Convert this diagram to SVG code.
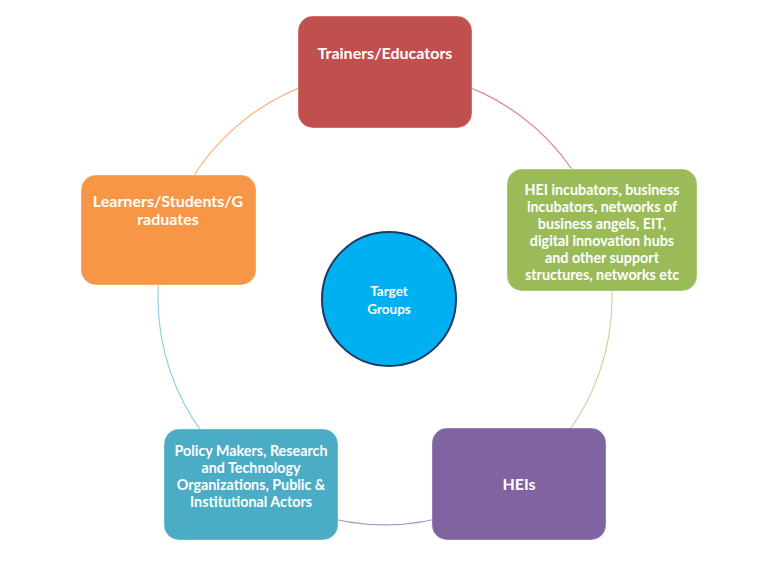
<svg xmlns="http://www.w3.org/2000/svg" width="768" height="567" viewBox="0 0 768 567">
<style>
.box{stroke:#ffffff;stroke-opacity:0.35;stroke-width:1}
.t{font-family:Lato,"Liberation Sans",sans-serif;font-weight:bold;font-size:14.3px;fill:#ffffff;text-anchor:middle}
.big{font-size:16px}
.arc{fill:none;stroke-width:1.2}
</style>
<rect width="768" height="567" fill="#ffffff"/>
<g id="connectors">
<path class="arc" stroke="#f9b47e" d="M167.9,231.6 A227,227 0 0 1 385,71"/>
<path class="arc" stroke="#dc8a88" d="M385,71 A227,227 0 0 1 602.1,231.6"/>
<path class="arc" stroke="#c6d8a0" d="M602.1,231.6 A227,227 0 0 1 518.4,481.6"/>
<path class="arc" stroke="#a795c4" d="M518.4,481.6 A227,227 0 0 1 251.6,481.6"/>
<path class="arc" stroke="#93d0de" d="M251.6,481.6 A227,227 0 0 1 167.9,231.6"/>
</g>
<g id="trainers">
<rect class="box" x="298" y="16" width="174" height="112" rx="15" fill="#c0504d"/>
<text class="t big" x="385" y="59">Trainers/Educators</text>
</g>
<g id="support">
<rect class="box" x="507" y="169" width="190" height="122" rx="15" fill="#9bbb59"/>
<text class="t" x="602" y="195">HEI incubators, business</text>
<text class="t" x="602" y="212">incubators, networks of</text>
<text class="t" x="602" y="229">business angels, EIT,</text>
<text class="t" x="602" y="246">digital innovation hubs</text>
<text class="t" x="602" y="263">and other support</text>
<text class="t" x="602" y="280">structures, networks etc</text>
</g>
<g id="learners">
<rect class="box" x="81" y="175" width="175" height="110" rx="15" fill="#f79646"/>
<text class="t big" x="168" y="207">Learners/Students/G</text>
<text class="t big" x="168" y="225">raduates</text>
</g>
<g id="policy">
<rect class="box" x="164" y="429" width="174" height="111" rx="15" fill="#4bacc6"/>
<text class="t" x="251" y="456">Policy Makers, Research</text>
<text class="t" x="251" y="473">and Technology</text>
<text class="t" x="251" y="490">Organizations, Public &amp;</text>
<text class="t" x="251" y="507">Institutional Actors</text>
</g>
<g id="heis">
<rect class="box" x="432" y="428" width="174" height="112" rx="15" fill="#8064a2"/>
<text class="t" x="519" y="490" style="font-size:16px">HEIs</text>
</g>
<g id="target">
<circle cx="389" cy="299" r="67" fill="#00b0f0" stroke="#1f3864" stroke-width="2"/>
<text class="t" x="389" y="296" style="font-size:13.5px">Target</text>
<text class="t" x="389" y="314" style="font-size:13.5px">Groups</text>
</g>
</svg>
